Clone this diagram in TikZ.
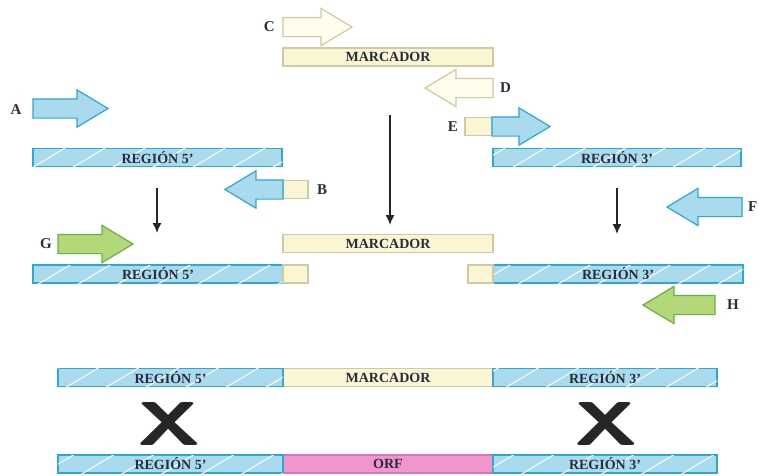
\documentclass[tikz,border=0pt]{standalone}
\usepackage{fontspec}
\setmainfont{Liberation Serif}
\usetikzlibrary{shapes.arrows,patterns,positioning,arrows.meta}

\definecolor{barblue}{RGB}{170,218,238}
\definecolor{barline}{RGB}{45,168,208}
\definecolor{creamfill}{RGB}{250,246,212}
\definecolor{creamline}{RGB}{208,202,160}
\definecolor{paleline}{RGB}{205,200,170}
\definecolor{palefill}{RGB}{255,253,236}
\definecolor{greenfill}{RGB}{178,216,122}
\definecolor{greenline}{RGB}{104,176,66}
\definecolor{pinkfill}{RGB}{240,150,205}
\definecolor{pinkline}{RGB}{215,120,180}
\definecolor{textdark}{RGB}{40,45,60}

\pgfdeclarepatternformonly{hatchsparse}{\pgfqpoint{-1pt}{-1pt}}{\pgfqpoint{41pt}{25pt}}{\pgfqpoint{40pt}{24pt}}{%
  \pgfsetlinewidth{1pt}%
  \pgfpathmoveto{\pgfqpoint{0pt}{0pt}}%
  \pgfpathlineto{\pgfqpoint{40.1pt}{24.1pt}}%
  \pgfusepath{stroke}}

\tikzset{
  bar/.style={line width=1.2pt, minimum height=18pt, inner sep=0pt, outer sep=0pt,
    font=\bfseries\fontsize{14}{14}\selectfont, text=textdark},
  bluebar/.style={bar, fill=barblue, draw=barline,
    postaction={pattern=hatchsparse, pattern color=white}},
  creambar/.style={bar, fill=creamfill, draw=creamline},
  orfbar/.style={bar, fill=pinkfill, draw=pinkline},
  blockarrow/.style={single arrow, single arrow head extend=9pt, single arrow tip angle=62,
    inner xsep=0pt, inner ysep=9pt, line width=1.2pt, outer sep=0pt, anchor=tail},
  leftward/.style={shape border rotate=180},
  bluearrow/.style={blockarrow, fill=barblue, draw=barline},
  palearrow/.style={blockarrow, fill=palefill, draw=paleline},
  greenarrow/.style={blockarrow, fill=greenfill, draw=greenline},
  letter/.style={font=\bfseries\fontsize{15}{15}\selectfont, text=textdark, inner sep=0pt},
  down/.style={-{Latex[length=10pt,width=9pt]}, line width=1.4pt, draw=black!85},
  cross/.style={font=\sffamily\bfseries\fontsize{62}{62}\selectfont, xscale=1.4,
    inner sep=0pt, text=black!85},
}

\begin{document}
\begin{tikzpicture}[x=1pt,y=-1pt]
  \useasboundingbox (0,0) rectangle (759,475);
  % top: marker and its primers
  \node[palearrow, minimum height=69pt] (arrC) at (283,27) {};
  \node[letter, left=8pt of arrC.tail] (labC) {C};
  \node[creambar, minimum width=210pt] (mk1) at (388,57) {MARCADOR};
  \node[palearrow, leftward, minimum height=68pt] (arrD) at (493,88) {};
  \node[letter, right=7pt of arrD.tail] (labD) {D};
  \node[creambar, minimum width=27pt] (tagE) at (478.5,126.5) {};
  \node[bluearrow, minimum height=58pt] (arrE) at (tagE.east) {};
  \node[letter, left=7pt of tagE] (labE) {E};
  % flanking regions
  \node[bluearrow, minimum height=75pt] (arrA) at (33,108.5) {};
  \node[letter] (labA) at (16,110) {A};
  \node[bluebar, minimum width=249pt] (r5a) at (157.5,157.5) {REGIÓN 5’};
  \node[bluebar, minimum width=248pt] (r3a) at (617,157.5) {REGIÓN 3’};
  \node[creambar, minimum width=25pt] (tagB) at (295.5,189.5) {};
  \node[bluearrow, leftward, minimum height=58pt] (arrB) at (tagB.west) {};
  \node[letter, right=9pt of tagB] (labB) {B};
  \node[bluearrow, leftward, minimum height=75pt] (arrF) at (742,207) {};
  \node[letter, right=6pt of arrF.tail] (labF) {F};
  %
  \coordinate (d1a) at (157,188);
  \coordinate (d1b) at (157,233);
  \coordinate (d2a) at (390,115);
  \coordinate (d2b) at (390,225);
  \coordinate (d3a) at (617,188);
  \coordinate (d3b) at (617,234);
  \draw[down] (d1a) -- (d1b);
  \draw[down] (d2a) -- (d2b);
  \draw[down] (d3a) -- (d3b);
  % PCR products
  \node[greenarrow, minimum height=75pt] (arrG) at (58,244) {};
  \node[letter, left=6pt of arrG.tail] (labG) {G};
  \node[creambar, minimum width=210pt] (mk2) at (388,243.5) {MARCADOR};
  \node[bluebar, minimum width=250pt] (r5b) at (158,274) {REGIÓN 5’};
  \node[creambar, minimum width=25pt, right=0pt of r5b] (tag5) {};
  \node[bluebar, minimum width=250pt] (r3b) at (618,274) {REGIÓN 3’};
  \node[creambar, minimum width=25pt, left=0pt of r3b] (tag3) {};
  \node[greenarrow, leftward, minimum height=72pt] (arrH) at (715,305) {};
  \node[letter, right=12pt of arrH.tail] (labH) {H};
  % recombination
  \node[creambar, minimum width=210pt] (mk3) at (388,377.5) {MARCADOR};
  \node[bluebar, minimum width=225pt, left=0pt of mk3] (r5c) {REGIÓN 5’};
  \node[bluebar, minimum width=224pt, right=0pt of mk3] (r3c) {REGIÓN 3’};
  \node[cross] (x5) at (169,424) {X};
  \node[cross] (x3) at (606,424) {X};
  \node[orfbar, minimum width=210pt] (orf) at (388,464) {ORF};
  \node[bluebar, minimum width=225pt, left=0pt of orf] (r5d) {REGIÓN 5’};
  \node[bluebar, minimum width=224pt, right=0pt of orf] (r3d) {REGIÓN 3’};
\end{tikzpicture}
\end{document}
